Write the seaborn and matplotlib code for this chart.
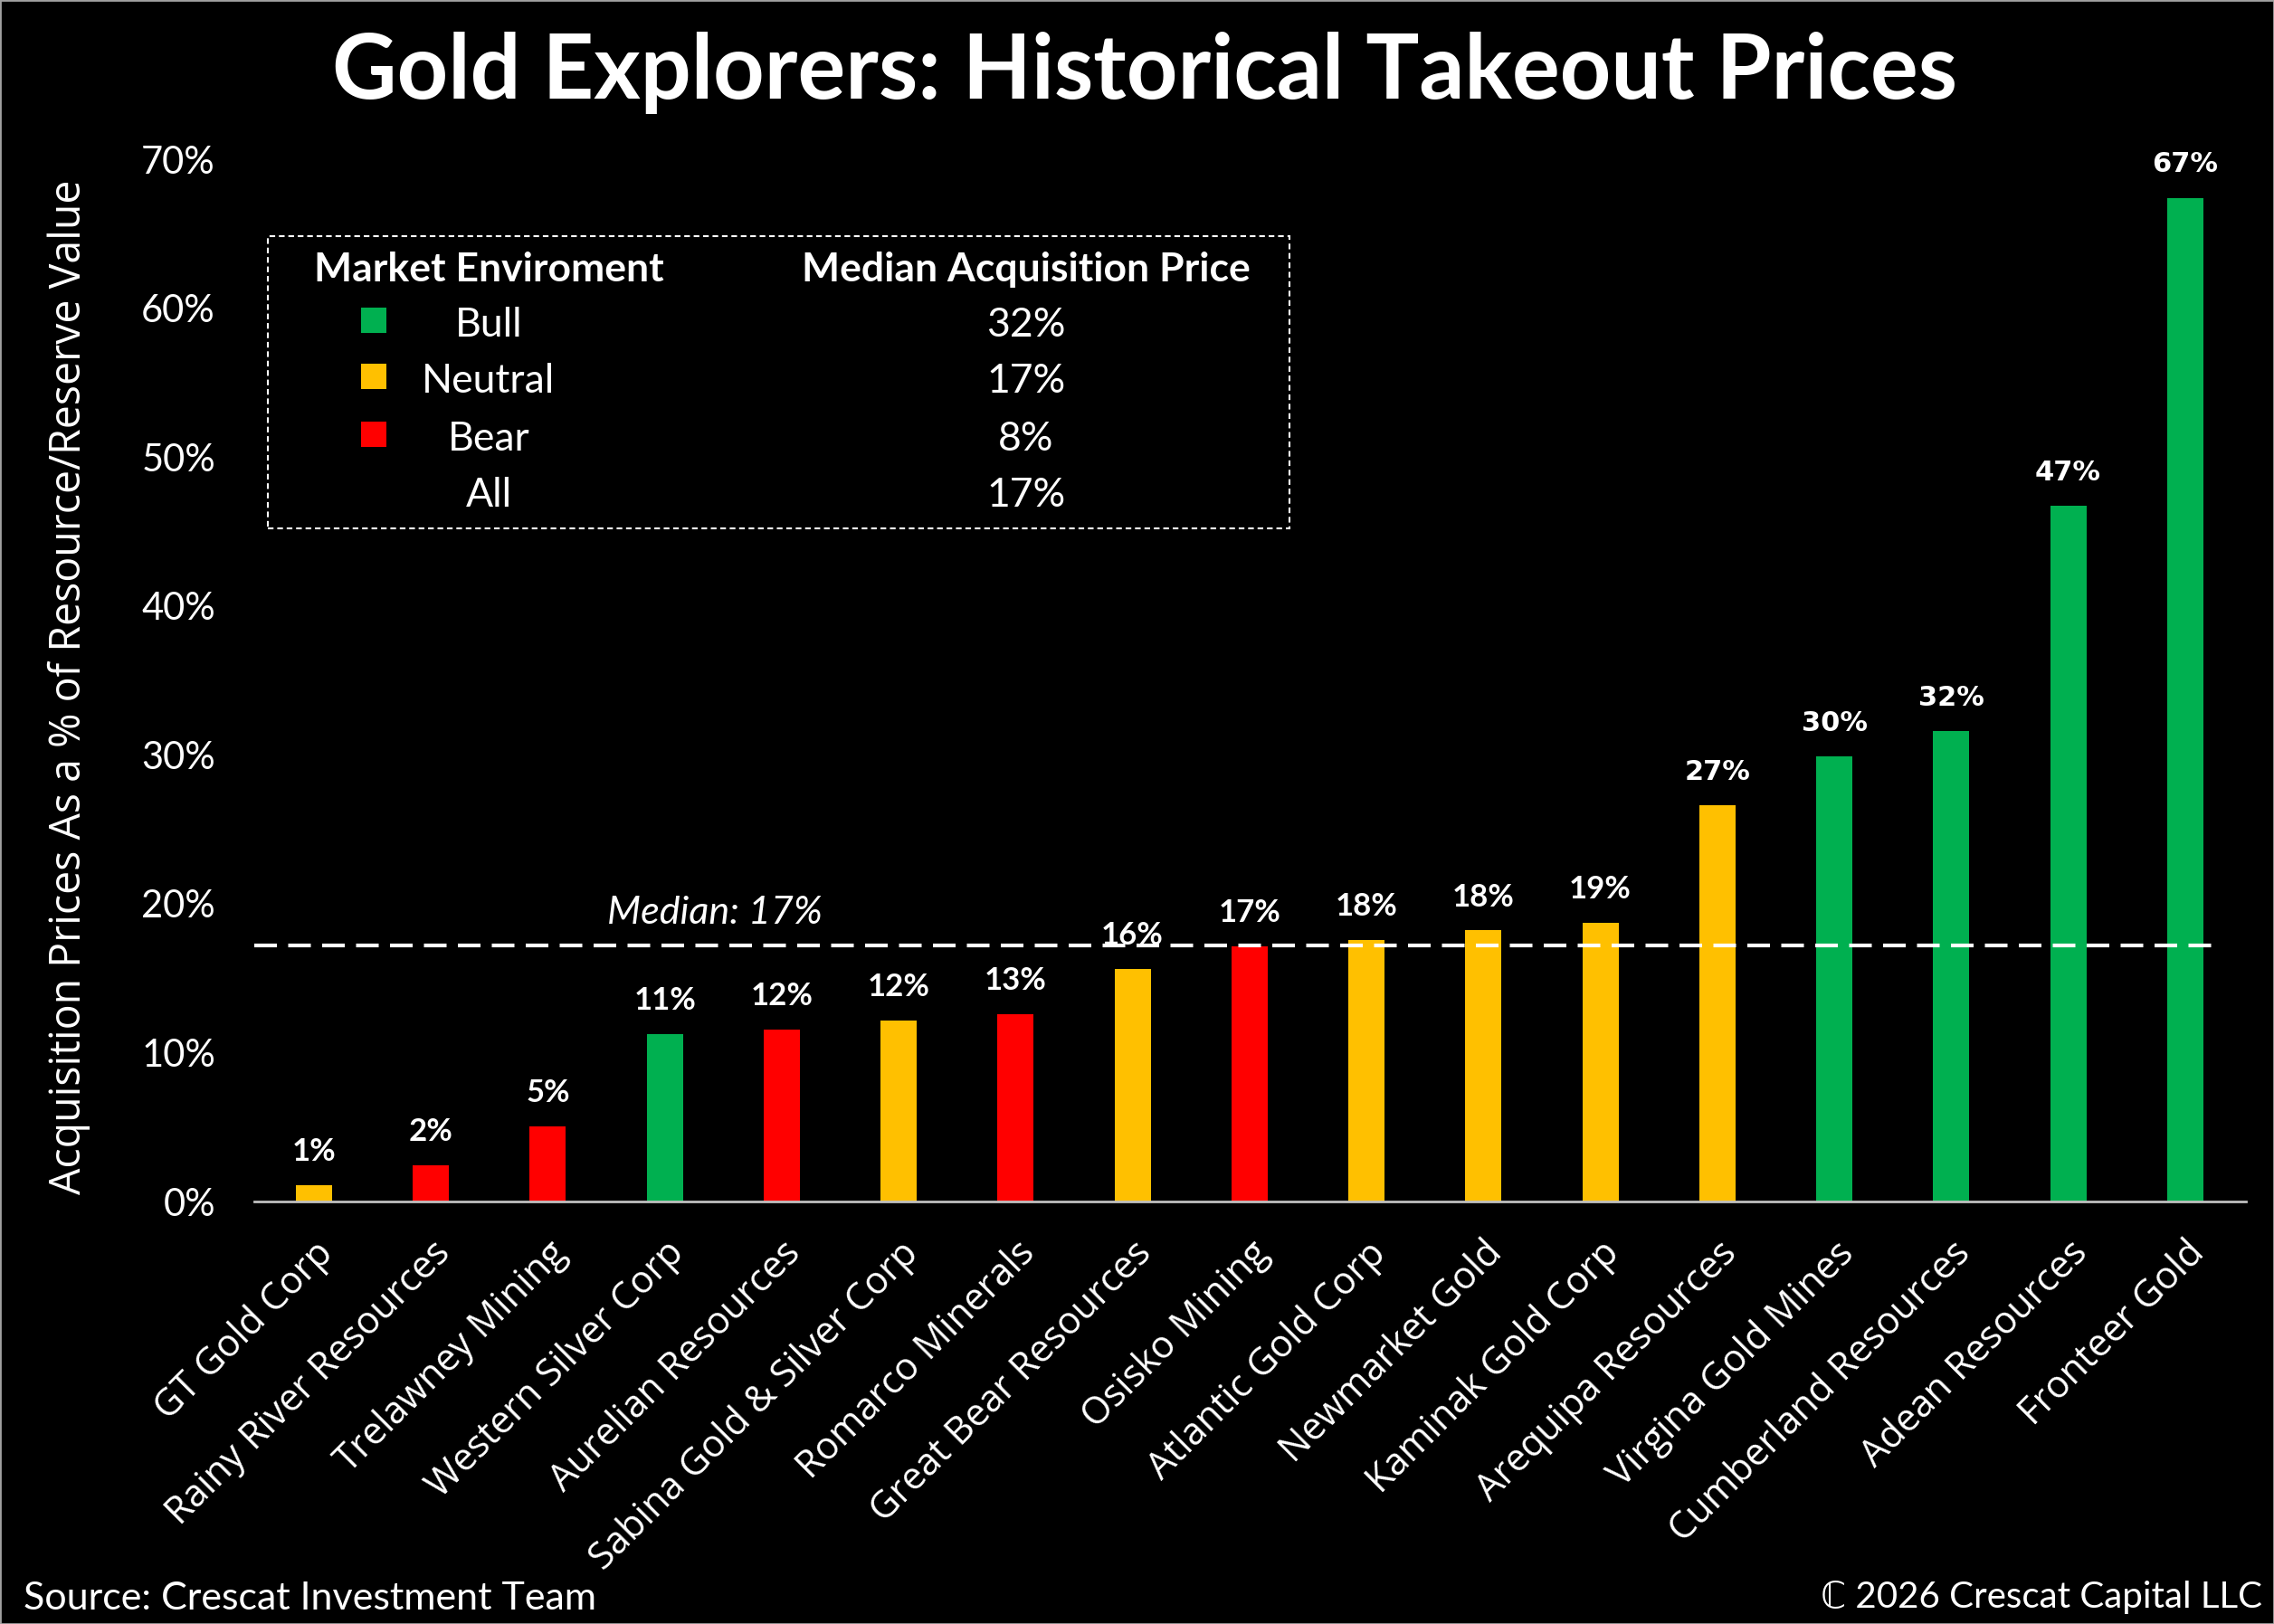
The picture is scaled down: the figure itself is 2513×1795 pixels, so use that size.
import numpy as np
import matplotlib
matplotlib.use("Agg")
import matplotlib.pyplot as plt
from matplotlib.patches import Rectangle
import seaborn as sns

# data (percent of resource/reserve value)
companies = ["GT Gold Corp", "Rainy River Resources", "Trelawney Mining", "Western Silver Corp",
             "Aurelian Resources", "Sabina Gold & Silver Corp", "Romarco Minerals",
             "Great Bear Resources", "Osisko Mining", "Atlantic Gold Corp", "Newmarket Gold",
             "Kaminak Gold Corp", "Arequipa Resources", "Virgina Gold Mines",
             "Cumberland Resources", "Adean Resources", "Fronteer Gold"]
values = [1.1, 2.45, 5.05, 11.25, 11.55, 12.15, 12.6, 15.6, 17.15, 17.55, 18.2, 18.7,
          26.6, 29.9, 31.6, 46.7, 67.4]
environment = ["Neutral", "Bear", "Bear", "Bull", "Bear", "Neutral", "Bear", "Neutral", "Bear",
               "Neutral", "Neutral", "Neutral", "Neutral", "Bull", "Bull", "Bull", "Bull"]
median_all = 17.2

legend_env = ["Bull", "Neutral", "Bear", "All"]
legend_median = ["32%", "17%", "8%", "17%"]

env_colors = {"Bull": "#00B050", "Neutral": "#FFC000", "Bear": "#FF0000"}
bar_colors = [env_colors[e] for e in environment]

W, H = 2513, 1795


def fx(x):
    return x / W


def fy(y):
    return 1 - y / H


sns.set_theme(style="dark", rc={"axes.facecolor": "black", "figure.facecolor": "black",
                                "axes.grid": False})
plt.rcParams["font.family"] = ["Lato", "DejaVu Sans"]

fig = plt.figure(figsize=(W / 100, H / 100), dpi=100)
ax = fig.add_axes([fx(281), fy(1328), fx(2482) - fx(281), fy(176) - fy(1328)])

sns.barplot(x=companies, y=values, hue=companies, palette=bar_colors, saturation=1,
            width=0.31, linewidth=0, legend=False, ax=ax)

ax.set_xlim(-0.51, 16.52)
ax.set_ylim(0, 70)
yt = np.arange(0, 71, 10)
ax.set_yticks(yt)
ax.set_yticklabels([f"{t}%" for t in yt])
ax.set_xlabel("")
ax.set_ylabel("")
ax.tick_params(axis="y", length=0, pad=31, labelsize=30, colors="white")
ax.tick_params(axis="x", length=0, pad=26, colors="white")
ax.set_xticks(range(len(companies)))
ax.set_xticklabels(companies, rotation=45, ha="right", rotation_mode="anchor",
                   fontfamily="Open Sans", fontsize=30)

for s in ["left", "right", "top"]:
    ax.spines[s].set_visible(False)
ax.spines["bottom"].set_color("#bfbfbf")
ax.spines["bottom"].set_linewidth(2)

# median line
ax.axhline(median_all, xmin=0, xmax=0.985, color="white", lw=3, ls=(0, (6, 3)))
ax.annotate(f"Median: {median_all:.0f}%", xy=(3.43, median_all), xytext=(0, 26),
            textcoords="offset points", ha="center", va="center", color="white",
            fontsize=31, fontstyle="italic")

# value labels
for i, p in enumerate(ax.patches[:len(values)]):
    fam = "DejaVu Sans" if values[i] > 20 else "Lato"
    size = 22 if values[i] > 20 else 25
    ax.annotate(f"{values[i]:.0f}%", xy=(p.get_x() + p.get_width() / 2, p.get_height()),
                xytext=(0, 26.5), textcoords="offset points", ha="center", va="center",
                color="white", fontweight="bold", fontfamily=fam, fontsize=size)

# title and axis label
fig.text(fx(1265), fy(80), "Gold Explorers: Historical Takeout Prices", ha="center",
         va="center", color="white", fontsize=71, fontweight="bold")
fig.text(fx(76), fy(759), "Acquisition Prices As a % of Resource/Reserve Value", rotation=90,
         ha="center", va="center", color="white", fontsize=33.5, fontfamily="Open Sans")

# legend table
fig.add_artist(Rectangle((fx(296), fy(584)), fx(1425) - fx(296), fy(261) - fy(584),
                         transform=fig.transFigure, fill=False, ec="white", lw=1.5,
                         ls=(0, (3, 2))))
fig.text(fx(540), fy(298), "Market Enviroment", ha="center", va="center", color="white",
         fontsize=32, fontweight="bold")
fig.text(fx(1134), fy(298), "Median Acquisition Price", ha="center", va="center",
         color="white", fontsize=32, fontweight="bold")
row_y = [360, 422, 486, 547]
for env, med, ry in zip(legend_env, legend_median, row_y):
    fig.text(fx(540), fy(ry), env, ha="center", va="center", color="white", fontsize=32)
    fig.text(fx(1134), fy(ry), med, ha="center", va="center", color="white", fontsize=32)
    if env in env_colors:
        fig.add_artist(Rectangle((fx(399), fy(ry + 8)), 28 / W, 28 / H,
                                 transform=fig.transFigure, color=env_colors[env], lw=0))

# footer
fig.text(fx(26), fy(1767), "Source: Crescat Investment Team", ha="left", va="center",
         color="white", fontsize=31)
fig.text(fx(2500), fy(1765), "\u2102 2026 Crescat Capital LLC", ha="right", va="center",
         color="white", fontsize=29)

fig.add_artist(Rectangle((0, 0), 1, 1, transform=fig.transFigure, fill=False,
                         ec="#a0a0a0", lw=2))

fig.savefig("out.png", dpi=100, facecolor="black")
